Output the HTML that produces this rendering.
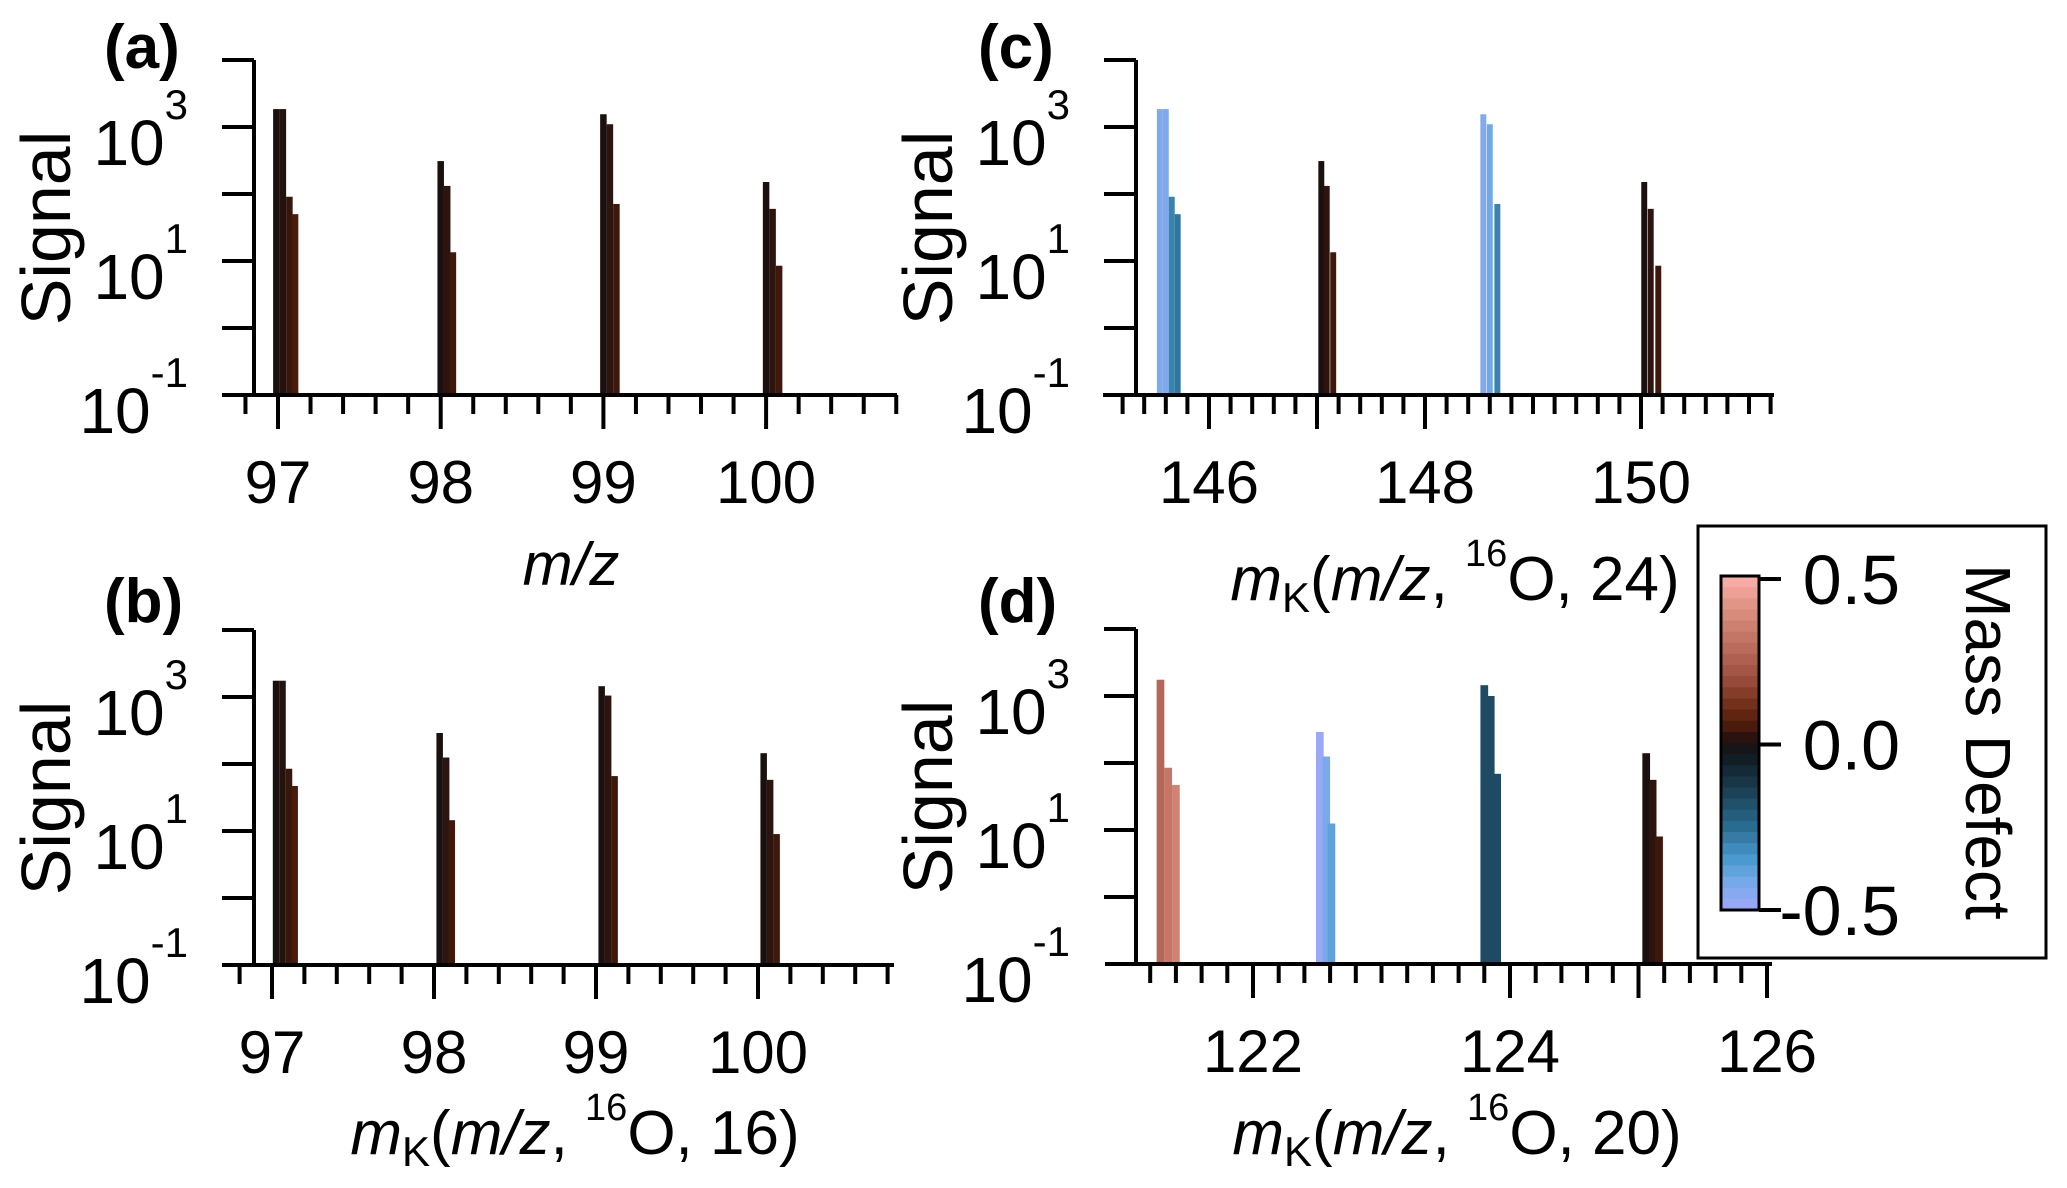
<!DOCTYPE html>
<html><head><meta charset="utf-8"><style>
html,body{margin:0;padding:0;background:#fff;}
svg{display:block;font-family:"Liberation Sans",sans-serif;}
</style></head><body>
<svg id="chart" width="2067" height="1188" viewBox="0 0 2067 1188" xmlns="http://www.w3.org/2000/svg"></svg>
<script>
// ---- data ----
const massA = [96.99,97.03,97.07,97.105, 98.0,98.04,98.075, 99.0,99.04,99.08, 100.0,100.04,100.08];
const sigA = [1850,1850,91,50, 310,132,13.5, 1550,1100,71, 151,60,8.5];
const defA = [0.0,0.01,0.03,0.05, 0.0,0.02,0.04, 0.0,0.02,0.04, 0.0,0.02,0.04];
const massB = [97.025,97.065,97.105,97.14, 98.035,98.075,98.11, 99.035,99.075,99.115, 100.035,100.075,100.115];
const sigB = [1750,1750,85,47, 290,125,14.5, 1450,1050,66, 145,58,9];
const defB = [0.0,0.01,0.03,0.05, 0.0,0.02,0.04, 0.0,0.02,0.04, 0.0,0.02,0.04];
const massC = [145.545,145.6,145.655,145.71, 147.04,147.09,147.15, 148.54,148.6,148.67, 150.03,150.09,150.16];
const sigC = [1850,1850,91,50, 310,132,13.5, 1550,1100,71, 151,60,8.5];
const defC = [-0.43,-0.43,-0.3,-0.27, 0.0,0.02,0.04, -0.44,-0.41,-0.3, 0.0,0.02,0.04];
const massD = [121.28,121.34,121.4, 122.52,122.57,122.61, 123.8,123.85,123.9, 125.06,125.11,125.16];
const sigD = [1750,85,47, 290,125,12.5, 1450,1000,69, 140,56,8];
const defD = [0.27,0.32,0.36, -0.49,-0.42,-0.38, -0.17,-0.17,-0.17, 0.0,0.02,0.04];
const yTickExps = [3,1,-1];
const cbTicks = [0.5,0.0,-0.5];
const cbLabels = ["0.5","0.0","-0.5"];

const NS="http://www.w3.org/2000/svg";
const svg=document.getElementById('chart');
function mk(tag,attrs,parent){const e=document.createElementNS(NS,tag);for(const k in attrs)e.setAttribute(k,attrs[k]);(parent||svg).appendChild(e);return e;}

const stops=[[0.5,[251,176,172]],[0.4,[220,144,128]],[0.3,[192,112,96]],[0.2,[160,80,64]],[0.1,[106,42,20]],[0.05,[74,26,10]],[0.0,[26,16,16]],[-0.05,[18,30,38]],[-0.15,[28,66,88]],[-0.25,[42,108,144]],[-0.35,[74,154,208]],[-0.42,[120,170,234]],[-0.5,[160,168,250]]];
function cmap(v){
  for(let i=0;i<stops.length-1;i++){const a=stops[i],b=stops[i+1];
    if(v<=a[0]&&v>=b[0]){const t=(a[0]-v)/(a[0]-b[0]);const c=a[1].map((x,j)=>Math.round(x+(b[1][j]-x)*t));return 'rgb('+c.join(',')+')';}}
  return v>0?'rgb(251,176,172)':'rgb(160,168,250)';
}

function panel(p){
  const g=mk('g',{});
  
  
  const X=v=>p.x0+(v-p.xref)*p.ppu;
  const Y=v=>p.yBot-(Math.log10(v)+1)*67;
  for(let i=0;i<p.mass.length;i++){
    const xc=X(p.mass[i]),w=p.bw*p.ppu,yt=Y(p.sig[i]);
    const r=mk('rect',{x:xc-w/2,y:yt,width:w,height:p.yBot-yt,fill:cmap(p.def[i])},g);
    
    
  }
  const ya=mk('line',{x1:p.yAxisX,y1:p.yBot-335,x2:p.yAxisX,y2:p.yBot,stroke:'#000','stroke-width':4},g);
  
  const xa=mk('line',{x1:p.axL,y1:p.yBot,x2:p.axR,y2:p.yBot,stroke:'#000','stroke-width':4},g);
  
  for(let e=0;e<=4;e++){const y=p.yBot-(e+1)*67;mk('line',{x1:p.yAxisX-32,y1:y,x2:p.yAxisX,y2:y,stroke:'#000','stroke-width':4},g);}
  yTickExps.forEach(e=>{
    const y=Y(Math.pow(10,e));
    const t=mk('text',{x:p.yAxisX-66,y:y+38,'text-anchor':'end','font-size':64},g);
    
    t.appendChild(document.createTextNode('10'));
    const s=mk('tspan',{dy:-46,'font-size':42},t);s.textContent=String(e);
  });
  for(let v=p.minStart;v<=p.minEnd+1e-6;v+=0.2){
    const x=X(v);const major=p.majors.some(m=>Math.abs(m-v)<1e-6)||p.longs.some(m=>Math.abs(m-v)<1e-6);
    mk('line',{x1:x,y1:p.yBot,x2:x,y2:p.yBot+(major?34:19),stroke:'#000','stroke-width':4},g);
  }
  p.majors.forEach(m=>{
    const t=mk('text',{x:X(m),y:p.yBot+108,'text-anchor':'middle','font-size':60},g);
    
    t.textContent=String(m);
  });
  const sl=mk('text',{x:0,y:0,'text-anchor':'middle','font-size':70,transform:'translate('+(p.yAxisX-184)+','+(p.yBot-167)+') rotate(-90)'},g);
  
  sl.textContent='Signal';
  const pl=mk('text',{x:p.labX,y:p.labY,'font-size':62,'font-weight':'bold'},g);
  
  pl.textContent='('+p.id+')';
}

panel({id:'a',mass:massA,sig:sigA,def:defA,x0:278,xref:97,ppu:162.7,bw:0.04,yBot:395,yAxisX:254,axL:222,axR:897,minStart:96.8,minEnd:100.8,majors:[97,98,99,100],longs:[],labX:104,labY:68});
panel({id:'b',mass:massB,sig:sigB,def:defB,x0:272,xref:97,ppu:162,bw:0.04,yBot:965,yAxisX:254,axL:222,axR:894,minStart:96.8,minEnd:100.8,majors:[97,98,99,100],longs:[],labX:104,labY:622});
panel({id:'c',mass:massC,sig:sigC,def:defC,x0:1209,xref:146,ppu:108,bw:0.055,yBot:395,yAxisX:1136,axL:1103,axR:1774,minStart:145.2,minEnd:151.2,majors:[146,148,150],longs:[147],labX:978,labY:68});
panel({id:'d',mass:massD,sig:sigD,def:defD,x0:1253,xref:122,ppu:128.5,bw:0.06,yBot:964,yAxisX:1136,axL:1105,axR:1772,minStart:121.2,minEnd:126,majors:[122,124,126],longs:[125],labX:978,labY:622});

function mkTitle(cx,y,num,name){
  const t=mk('text',{x:cx,y:y,'text-anchor':'middle','font-size':62});
  
  const a=mk('tspan',{'font-style':'italic'},t);a.textContent='m';
  const k=mk('tspan',{'font-size':42,dy:12},t);k.textContent='K';
  const b=mk('tspan',{dy:-12},t);b.textContent='(';
  const c=mk('tspan',{'font-style':'italic'},t);c.textContent='m/z';
  const d=mk('tspan',{},t);d.textContent=', ';
  const e=mk('tspan',{'font-size':38,dy:-34},t);e.textContent='16';
  const f=mk('tspan',{dy:34},t);f.textContent='O, '+num+')';
}
const mz=mk('text',{x:571,y:585,'text-anchor':'middle','font-size':60,'font-style':'italic'});

mz.textContent='m/z';
mkTitle(575,1154,16,'x-axis-title-b');
mkTitle(1455,600,24,'x-axis-title-c');
mkTitle(1457,1154,20,'x-axis-title-d');

const cb=mk('g',{});

mk('rect',{x:1698,y:526,width:348,height:432,fill:'#fff',stroke:'#000','stroke-width':3},cb);
const cbTop=576,cbBot=910,nb=30;
for(let i=0;i<nb;i++){
  const v=0.5-(i+0.5)/nb;
  mk('rect',{x:1721,y:cbTop+i*(cbBot-cbTop)/nb,width:38,height:(cbBot-cbTop)/nb+0.6,fill:cmap(v)},cb);
}
mk('rect',{x:1721,y:cbTop,width:38,height:cbBot-cbTop,fill:'none',stroke:'#000','stroke-width':3},cb);
cbTicks.forEach((v,i)=>{
  const y=cbBot-(v+0.5)*(cbBot-cbTop)*(331/334);
  mk('line',{x1:1759,y1:y,x2:1781,y2:y,stroke:'#000','stroke-width':4},cb);
  const t=mk('text',{x:1900,y:y+25,'text-anchor':'end','font-size':70},cb);
  
  t.textContent=cbLabels[i];
});
const md=mk('text',{x:0,y:0,'text-anchor':'middle','font-size':64,transform:'translate(1966,742) rotate(90)'},cb);

md.textContent='Mass Defect';
</script>
</body></html>
